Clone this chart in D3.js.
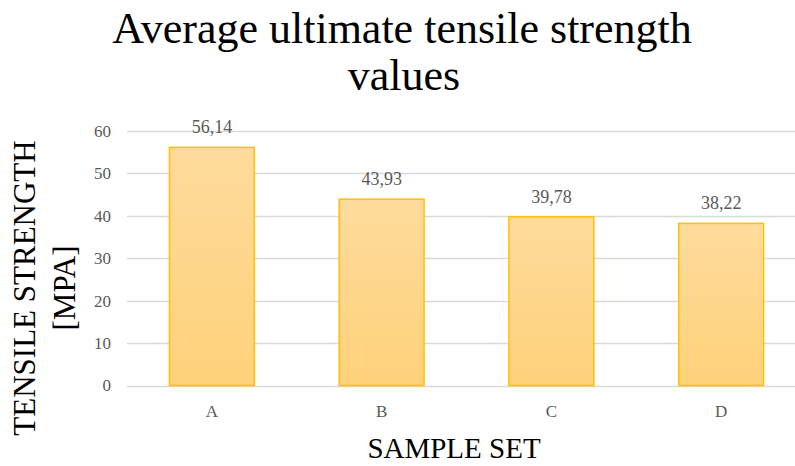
<!DOCTYPE html>
<html>
<head>
<meta charset="utf-8">
<script src="https://cdn.jsdelivr.net/npm/d3@7"></script>
<style>
  html, body { margin: 0; padding: 0; background: #fff; }
  svg { display: block; }
  text { font-family: "Liberation Serif", "Times New Roman", serif; }
</style>
</head>
<body>
<svg id="chart" width="795" height="466"></svg>
<script>
// Sample sets and their average ultimate tensile strength (MPa)
const categories = ["A", "B", "C", "D"];
const values = [56.14, 43.93, 39.78, 38.22];
const valueLabels = ["56,14", "43,93", "39,78", "38,22"];
const yTicks = [0, 10, 20, 30, 40, 50, 60];

const svg = d3.select("#chart");
const plot = { left: 127, right: 806, top: 131, bottom: 385.5 };

const x = d3.scaleBand()
  .domain(categories)
  .range([plot.left, plot.right])
  .paddingInner(0.5)
  .paddingOuter(0.25);

const y = d3.scaleLinear()
  .domain([0, 60])
  .range([plot.bottom, plot.top]);

// Bar fill: soft vertical gradient of light amber
const defs = svg.append("defs");
const grad = defs.append("linearGradient")
  .attr("id", "barFill")
  .attr("x1", 0).attr("y1", 0).attr("x2", 0).attr("y2", 1);
grad.append("stop").attr("offset", "0%").attr("stop-color", "#fedb9c");
grad.append("stop").attr("offset", "100%").attr("stop-color", "#fed27a");

// Horizontal gridlines
svg.append("g")
  .selectAll("line")
  .data(yTicks)
  .join("line")
  .attr("x1", plot.left)
  .attr("x2", plot.right)
  .attr("y1", d => Math.round(y(d)) + 0.5)
  .attr("y2", d => Math.round(y(d)) + 0.5)
  .attr("stroke", "#d9d9d9")
  .attr("stroke-width", 1.3);

// Y axis tick labels
const yAxis = d3.axisLeft(y).tickValues(yTicks).tickSize(0).tickPadding(0);
const yg = svg.append("g")
  .attr("transform", `translate(${plot.left - 16},0)`)
  .call(yAxis);
yg.select(".domain").remove();
yg.selectAll("text")
  .attr("fill", "#595959")
  .attr("font-size", 17)
  .attr("font-family", "Liberation Serif, serif");

// Bars
svg.append("g")
  .selectAll("rect")
  .data(values)
  .join("rect")
  .attr("x", (d, i) => x(categories[i]))
  .attr("y", d => y(d))
  .attr("width", x.bandwidth())
  .attr("height", d => y(0) - y(d))
  .attr("fill", "url(#barFill)")
  .attr("stroke", "#ffc000")
  .attr("stroke-width", 1.5);

// Value labels above bars
svg.append("g")
  .selectAll("text")
  .data(values)
  .join("text")
  .attr("x", (d, i) => x(categories[i]) + x.bandwidth() / 2)
  .attr("y", d => y(d) - 14)
  .attr("text-anchor", "middle")
  .attr("fill", "#595959")
  .attr("font-size", 18)
  .text((d, i) => valueLabels[i]);

// X axis category labels
const xAxis = d3.axisBottom(x).tickSize(0).tickPadding(0);
const xg = svg.append("g")
  .attr("transform", `translate(0,${plot.bottom + 19})`)
  .call(xAxis);
xg.select(".domain").remove();
xg.selectAll("text")
  .attr("fill", "#595959")
  .attr("font-size", 17)
  .attr("font-family", "Liberation Serif, serif");

// Chart title
const title = svg.append("text")
  .attr("text-anchor", "middle")
  .attr("fill", "#000")
  .attr("font-size", 44);
title.append("tspan").attr("x", 402).attr("y", 43).text("Average ultimate tensile strength");
title.append("tspan").attr("x", 404).attr("y", 90).text("values");

// X axis title
svg.append("text")
  .attr("x", 454)
  .attr("y", 458)
  .attr("text-anchor", "middle")
  .attr("font-size", 29)
  .attr("fill", "#000")
  .text("SAMPLE SET");

// Y axis title (two lines, rotated)
const yTitle = svg.append("text")
  .attr("transform", "translate(0,288) rotate(-90)")
  .attr("text-anchor", "middle")
  .attr("font-size", 31)
  .attr("fill", "#000");
yTitle.append("tspan").attr("x", 0).attr("y", 35).text("TENSILE STRENGTH");
yTitle.append("tspan").attr("x", 0).attr("y", 75).text("[MPA]");
</script>
</body>
</html>
